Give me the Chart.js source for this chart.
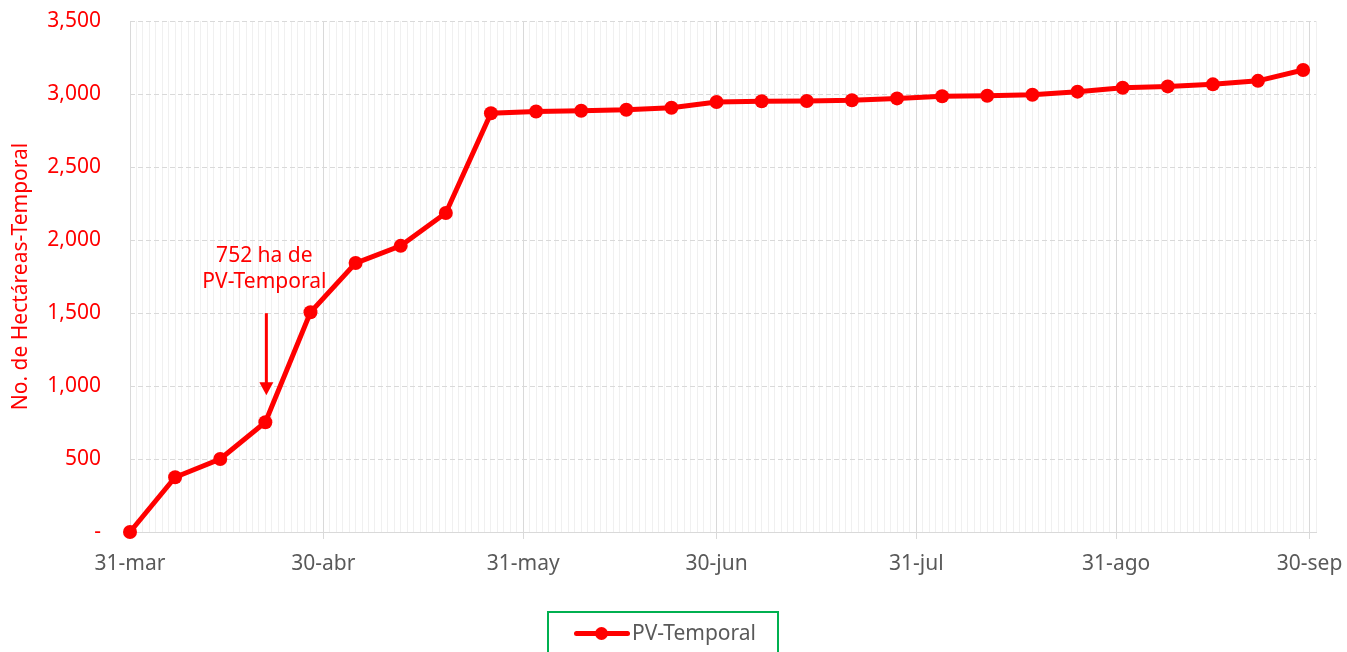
<!DOCTYPE html>
<html>
<head>
<meta charset="utf-8">
<script src="https://cdn.jsdelivr.net/npm/chart.js@4/dist/chart.umd.min.js"></script>
<style>
  html, body { margin: 0; padding: 0; background: #fff; }
  #caja { position: relative; width: 1347px; height: 652px; overflow: hidden; }
  #leyenda {
    position: absolute; left: 547px; top: 611px; width: 232px; height: 50px;
    border: 2px solid #00b050; box-sizing: border-box;
    font-family: "Noto Sans", "Open Sans", sans-serif; font-size: 21px; color: #595959;
  }
  #leyenda .linea { position: absolute; left: 25px; top: 18px; width: 56px; height: 5px; background: #ff0000; border-radius: 3px; }
  #leyenda .punto { position: absolute; left: 46px; top: 14px; width: 13px; height: 13px; background: #ff0000; border-radius: 50%; }
  #leyenda .texto { position: absolute; left: 83px; top: 5px; }
</style>
</head>
<body>
<div id="caja">
  <canvas id="myChart" width="1347" height="652"></canvas>
  <div id="leyenda"><span class="linea"></span><span class="punto"></span><span class="texto">PV-Temporal</span></div>
</div>
<script>
// dias desde el 31-mar (un punto por semana)
var dias = [0, 7, 14, 21, 28, 35, 42, 49, 56, 63, 70, 77, 84, 91, 98, 105, 112, 119, 126, 133, 140, 147, 154, 161, 168, 175, 182];
var hectareas = [0, 375, 500, 752, 1505, 1842, 1960, 2185, 2868, 2880, 2885, 2892, 2906, 2945, 2950, 2952, 2957, 2970, 2985, 2988, 2995, 3016, 3043, 3052, 3066, 3090, 3164];

// etiquetas del eje x
var diasEtiqueta = [0, 30, 61, 91, 122, 153, 183];
var textoEtiqueta = ["31-mar", "30-abr", "31-may", "30-jun", "31-jul", "31-ago", "30-sep"];

var rojo = "#ff0000";
var gris = "#595959";
var fuente = "'Noto Sans', 'Open Sans', sans-serif";

function esMayor(v) {
    return diasEtiqueta.indexOf(v) >= 0;
}

// flecha y texto del 752 ha
var anotacion = {
    id: "anotacion",
    afterDatasetsDraw: function (chart) {
        var p = chart.getDatasetMeta(0).data[3];
        var ctx = chart.ctx;
        ctx.save();
        ctx.fillStyle = rojo;
        ctx.strokeStyle = rojo;
        ctx.font = "21px " + fuente;
        ctx.textAlign = "center";
        ctx.textBaseline = "middle";
        ctx.fillText(hectareas[3] + " ha de", p.x - 1, p.y - 166);
        ctx.fillText("PV-Temporal", p.x - 1, p.y - 140);
        ctx.lineWidth = 3;
        ctx.beginPath();
        ctx.moveTo(p.x + 1, p.y - 109);
        ctx.lineTo(p.x + 1, p.y - 38);
        ctx.stroke();
        ctx.beginPath();
        ctx.moveTo(p.x - 6, p.y - 40);
        ctx.lineTo(p.x + 8, p.y - 40);
        ctx.lineTo(p.x + 1, p.y - 27);
        ctx.closePath();
        ctx.fill();
        ctx.restore();
    }
};

var puntos = dias.map(function (d, i) {
    return { x: d, y: hectareas[i] };
});

var ctx = document.getElementById("myChart").getContext("2d");
var myChart = new Chart(ctx, {
    type: "line",
    data: {
        datasets: [{
            label: "PV-Temporal",
            data: puntos,
            borderColor: rojo,
            backgroundColor: rojo,
            borderWidth: 5,
            pointRadius: 7,
            pointBackgroundColor: rojo,
            pointBorderWidth: 0,
            tension: 0,
            clip: false
        }]
    },
    options: {
        responsive: false,
        animation: false,
        layout: { padding: { top: 21, right: 31, bottom: 60, left: 0 } },
        plugins: {
            legend: { display: false },
            tooltip: { enabled: false }
        },
        scales: {
            x: {
                type: "linear",
                min: 0,
                max: 184,
                afterBuildTicks: function (scale) {
                    var t = [];
                    for (var d = 0; d <= 184; d++) t.push({ value: d });
                    scale.ticks = t;
                },
                afterFit: function (scale) { scale.height = 60; },
                ticks: {
                    autoSkip: false,
                    maxRotation: 0,
                    padding: 12,
                    color: gris,
                    font: { family: fuente, size: 21 },
                    callback: function (v) {
                        var i = diasEtiqueta.indexOf(v);
                        return i >= 0 ? textoEtiqueta[i] : "";
                    }
                },
                grid: {
                    tickLength: 7,
                    color: function (c) { return esMayor(c.tick.value) ? "#d9d9d9" : "#f0f0f0"; },
                    tickColor: function (c) { return esMayor(c.tick.value) ? "#d9d9d9" : "rgba(0,0,0,0)"; }
                },
                border: { color: "#d9d9d9", width: 1 }
            },
            y: {
                min: 0,
                max: 3500,
                afterFit: function (scale) { scale.width = 130; },
                ticks: {
                    stepSize: 500,
                    padding: 3,
                    color: rojo,
                    font: { family: fuente, size: 21 },
                    callback: function (v) {
                        return v === 0 ? "-" : v.toLocaleString("en-US");
                    }
                },
                grid: { drawTicks: true, tickLength: 26, tickColor: "rgba(0,0,0,0)", color: "#d9d9d9" },
                border: { display: false, dash: [5, 3] },
                title: {
                    display: true,
                    text: "No. de Hectáreas-Temporal",
                    color: rojo,
                    font: { family: fuente, size: 21 },
                    padding: { top: 8, bottom: 0 }
                }
            }
        }
    },
    plugins: [anotacion]
});
</script>
</body>
</html>
